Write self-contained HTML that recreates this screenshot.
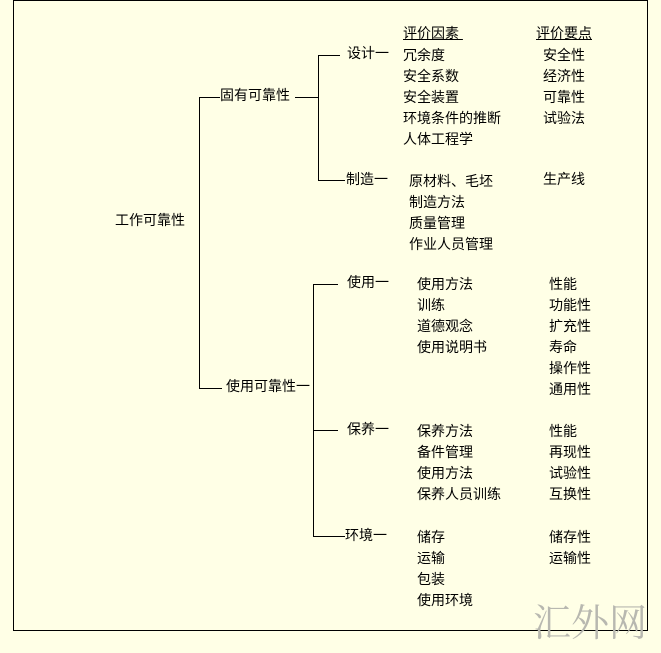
<!DOCTYPE html>
<html><head><meta charset="utf-8"><style>
body{margin:0;width:661px;height:653px;background:#ffffe6;position:relative;overflow:hidden;font-family:"Liberation Sans","WenQuanYi Zen Hei","Noto Sans CJK SC",sans-serif;font-size:14px;color:#000}
.t{position:absolute;line-height:16px;white-space:nowrap}
.h{position:absolute;height:1px;background:#000}
.v{position:absolute;width:1px;background:#000}
.u{text-decoration:underline}
</style></head><body>
<div style="position:absolute;left:13px;top:0;width:633px;height:629px;border-top:1px solid #000;border-left:1px solid #000;border-right:1px solid #000;border-bottom:1px solid #000"></div>
<div class="t" style="left:533px;top:598px;font-size:38px;line-height:44px;color:#b8b8b0;font-family:'Noto Serif CJK SC',serif">汇外网</div>

<div class="t" style="left:115px;top:212px">工作可靠性</div>
<div class="v" style="left:199px;top:97px;height:292px"></div>
<div class="h" style="left:199px;top:97px;width:21px"></div>
<div class="t" style="left:220px;top:87px">固有可靠性</div>
<div class="h" style="left:295px;top:97px;width:24px"></div>
<div class="v" style="left:318px;top:55px;height:126px"></div>
<div class="h" style="left:318px;top:55px;width:22px"></div>
<div class="h" style="left:318px;top:180px;width:27px"></div>
<div class="t" style="left:347px;top:45px">设计一</div>
<div class="t" style="left:346px;top:171px">制造一</div>

<div class="h" style="left:199px;top:388px;width:23px"></div>
<div class="t" style="left:226px;top:378px">使用可靠性一</div>
<div class="v" style="left:313px;top:284px;height:253px"></div>
<div class="h" style="left:313px;top:284px;width:25px"></div>
<div class="h" style="left:313px;top:430px;width:25px"></div>
<div class="h" style="left:313px;top:536px;width:32px"></div>
<div class="t" style="left:347px;top:274px">使用一</div>
<div class="t" style="left:347px;top:421px">保养一</div>
<div class="t" style="left:345px;top:527px">环境一</div>

<div class="t u" style="left:403px;top:25px">评价因素&nbsp;</div>
<div class="t u" style="left:536px;top:25px">评价要点</div>
<div class="t" style="left:403px;top:45px;line-height:21px">冗余度<br>安全系数<br>安全装置<br>环境条件的推断<br>人体工程学</div>
<div class="t" style="left:543px;top:45px;line-height:21px">安全性<br>经济性<br>可靠性<br>试验法</div>
<div class="t" style="left:409px;top:171px;line-height:21px">原材料、毛坯<br>制造方法<br>质量管理<br>作业人员管理</div>
<div class="t" style="left:543px;top:171px">生产线</div>

<div class="t" style="left:417px;top:274px;line-height:21px">使用方法<br>训练<br>道德观念<br>使用说明书</div>
<div class="t" style="left:549px;top:274px;line-height:21px">性能<br>功能性<br>扩充性<br>寿命<br>操作性<br>通用性</div>
<div class="t" style="left:417px;top:421px;line-height:21px">保养方法<br>备件管理<br>使用方法<br>保养人员训练</div>
<div class="t" style="left:549px;top:421px;line-height:21px">性能<br>再现性<br>试验性<br>互换性</div>
<div class="t" style="left:417px;top:527px;line-height:21px">储存<br>运输<br>包装<br>使用环境</div>
<div class="t" style="left:549px;top:527px;line-height:21px">储存性<br>运输性</div>
</body></html>
